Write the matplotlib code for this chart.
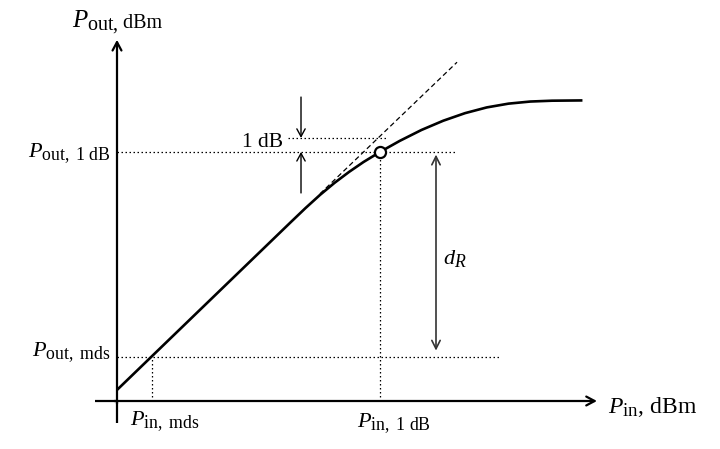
import matplotlib
matplotlib.use("Agg")
import matplotlib.pyplot as plt
from matplotlib.offsetbox import TextArea, HPacker, AnnotationBbox
try:
    import matplotlib._mathtext as _mt
    _mt.SHRINK_FACTOR = 0.8
except Exception:
    pass

plt.rcParams["font.family"] = ["Liberation Serif", "DejaVu Serif"]
plt.rcParams["mathtext.fontset"] = "custom"
plt.rcParams["mathtext.rm"] = "Liberation Serif"
plt.rcParams["mathtext.it"] = "Liberation Serif:italic"

# ---- data (schematic, dB units) ----
pin_curve = [0.0, 2.41, 12.0, 13.0, 14.0, 15.0, 16.0, 17.0, 18.14, 19.5, 21.0, 22.5,
             24.0, 25.5, 27.0, 28.5, 30.0, 32.1]
pout_curve = [0.79, 3.2, 12.79, 13.78, 14.72, 15.58, 16.36, 17.07, 17.79, 18.58, 19.36, 20.02,
              20.56, 20.97, 21.24, 21.39, 21.45, 21.47]
ext_pin = [14.0, 23.45]
ext_pout = [14.8, 24.2]
pin_mds, pout_mds = 2.41, 3.14
pin_1db, pout_1db = 18.14, 17.79
compression_db = 1.0

fig = plt.figure(figsize=(7.2, 4.49), dpi=100)
ax = fig.add_axes([0, 0, 1, 1])
ax.set_xlim(-117 / 14.5, (720 - 117) / 14.5)
ax.set_ylim(-48 / 14, 401 / 14)
ax.axis("off")

k = "black"
dot = (0, (1.2, 2.0))

# axes
ax.plot([-1.52, 0], [0, 0], color=k, lw=1.6, solid_capstyle="butt")
ax.annotate("", xy=(33.1, 0), xytext=(-0.2, 0),
            arrowprops=dict(arrowstyle="->,head_length=0.6,head_width=0.32", lw=1.6, color=k, shrinkA=0, shrinkB=0))
ax.plot([0, 0], [-1.57, 0], color=k, lw=1.6, solid_capstyle="butt")
ax.annotate("", xy=(0, 25.8), xytext=(0, -0.2),
            arrowprops=dict(arrowstyle="->,head_length=0.6,head_width=0.32", lw=1.6, color=k, shrinkA=0, shrinkB=0))

# dotted reference lines
ax.plot([0, 23.3], [pout_1db, pout_1db], color=k, lw=0.9, ls=dot)
ax.plot([11.8, 18.7], [pout_1db + compression_db, pout_1db + compression_db], color=k, lw=0.9, ls=dot)
ax.plot([0, 26.4], [pout_mds, pout_mds], color=k, lw=0.9, ls=dot)
ax.plot([pin_mds, pin_mds], [0, pout_mds], color=k, lw=0.9, ls=dot)
ax.plot([pin_1db, pin_1db], [0, pout_1db], color=k, lw=0.9, ls=dot)

# linear extrapolation
ax.plot(ext_pin, ext_pout, color=k, lw=0.9, ls=(0, (4, 2.5)))

# main curve
ax.plot(pin_curve, pout_curve, color=k, lw=1.9, solid_joinstyle="round", solid_capstyle="butt")
ax.plot([pin_1db], [pout_1db], marker="o", ms=8, mfc="white", mec=k, mew=1.6, zorder=5)

# 1 dB arrows
ax.annotate("", xy=(12.69, pout_1db + compression_db), xytext=(12.69, 21.71),
            arrowprops=dict(arrowstyle="->,head_length=0.55,head_width=0.3", lw=1.0, color=k, shrinkA=0, shrinkB=0))
ax.annotate("", xy=(12.69, pout_1db), xytext=(12.69, 14.86),
            arrowprops=dict(arrowstyle="->,head_length=0.55,head_width=0.3", lw=1.0, color=k, shrinkA=0, shrinkB=0))
# dR arrow
ax.annotate("", xy=(22.0, 17.6), xytext=(22.0, 3.6),
            arrowprops=dict(arrowstyle="<->,head_length=0.6,head_width=0.3", lw=1.2, color="#333333", shrinkA=0, shrinkB=0))

# labels
top = HPacker(children=[TextArea(r"$P_{\mathrm{out,}}$", textprops=dict(fontsize=18)),
                        TextArea(" dBm", textprops=dict(fontsize=14.5)),],
              align="baseline", pad=0, sep=0)
ax.add_artist(AnnotationBbox(top, (0, 27.0), box_alignment=(0.5, 0.5), frameon=False))

ax.text(-0.41, 17.43, r"$P_{\mathrm{out,\ 1\ dB}}$", fontsize=16, ha="right", va="baseline")
ax.text(-0.41, 3.2, r"$P_{\mathrm{out,\ mds}}$", fontsize=16, ha="right", va="baseline")
ax.text(0.9, -1.71, r"$P_{\mathrm{in,\ mds}}$", fontsize=16, ha="left", va="baseline")
ax.text(16.55, -1.86, r"$P_{\mathrm{in,\ 1\ dB}}$", fontsize=16, ha="left", va="baseline")
ax.text(33.86, -0.86, r"$P_{\mathrm{in}}$, dBm", fontsize=17, ha="left", va="baseline")
ax.text(11.45, 18.14, "1 dB", fontsize=15.5, ha="right", va="baseline")
ax.text(23.3, 10.2, r"$d_R$", fontsize=16, ha="center", va="center")

fig.savefig("out.png", dpi=100)
